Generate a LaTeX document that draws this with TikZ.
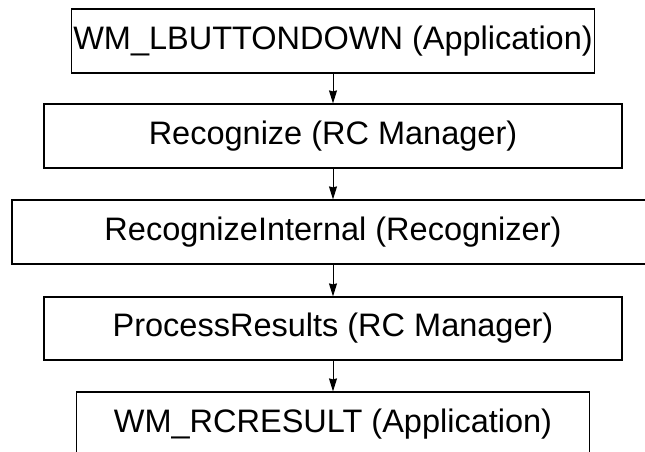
\documentclass[tikz,border=0pt]{standalone}
\usepackage{fontspec}
\setmainfont{Liberation Sans}
\usetikzlibrary{arrows.meta}
\tikzset{
	stagebox/.style 2 args={draw,line width=1.2pt,inner sep=0pt,minimum width=#1,minimum height=#2,font=\fontsize{32.5}{38}\selectfont},
	flow/.style={line width=1pt,-{Stealth[length=13pt,width=8pt,inset=1pt]}}
}
\begin{document}
\begin{tikzpicture}[x=1pt,y=-1pt]
					\clip (0,0) rectangle (645,452);
					\node [stagebox={523pt}{64pt}] (lbutton) at (333,41) {WM\_LBUTTONDOWN (Application)};
					\node [stagebox={578pt}{64pt}] (recog) at (333,136) {Recognize (RC Manager)};
					\node [stagebox={642pt}{64pt}] (internal) at (333,232) {RecognizeInternal (Recognizer)};
					\node [stagebox={578pt}{63pt}] (process) at (333,328.5) {ProcessResults (RC Manager)};
					\node [stagebox={513pt}{64pt}] (result) at (333,424) {WM\_RCRESULT (Application)};

					\draw [flow] (lbutton.south) -- (recog.north);
					\draw [flow] (recog.south) -- (internal.north);
					\draw [flow] (internal.south) -- (process.north);
					\draw [flow] (process.south) -- (result.north);
				\end{tikzpicture}
\end{document}
